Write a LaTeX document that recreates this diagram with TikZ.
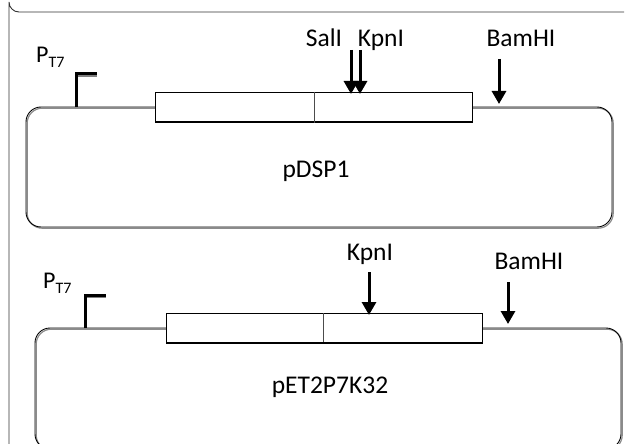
\documentclass[tikz,border=0pt]{standalone}
\usepackage{fontspec}
\setmainfont{Carlito}
\usetikzlibrary{arrows.meta}
\begin{document}
\begin{tikzpicture}[x=1pt,y=-1pt,
  lbl/.style={inner sep=0pt,anchor=base,font=\fontsize{25.5}{30}\selectfont},
  prom/.style={inner sep=0pt,anchor=base west,font=\fontsize{24}{28}\selectfont},
  frame/.style={draw=black!80,line width=0.9pt},
  backbone/.style={draw=black,line width=0.9pt,rounded corners=15pt},
  backshade/.style={draw=black!45,line width=1.2pt,rounded corners=15pt},
  gene/.style={draw=black,line width=1pt,fill=white},
  cut/.style={line width=3pt,-{Triangle[width=14pt,length=13pt]}},
  tss/.style={line width=3pt}]
\useasboundingbox (0,0) rectangle (627,444);
\clip (0,0) rectangle (627,444);

% outer frame
\draw[frame] (624,12) -- (19,12) arc[start angle=90,end angle=180,radius=10] -- (9,460);

% ---------- pDSP1 ----------
\draw[backshade] (27.2,108.2) rectangle (613.2,228.2);
\draw[backbone] (26,107) rectangle (612,227);
\node[gene,minimum width=317pt,minimum height=29pt,anchor=north west] (g1) at (155,92) {};
\draw[line width=2pt] (g1.south west) -- (g1.south east);
\draw[black!70,line width=0.8pt] (314,92) -- (314,123);
\coordinate (t1) at (76,107);
\coordinate (t1e) at (97,74);
\draw[black!50,line width=2pt] (78,76) -- (97,76);
\draw[tss] (t1) |- (t1e);
\node[prom] (p1) at (36,63) {P\raisebox{-5pt}{\fontsize{16}{18}\selectfont T7}};
\node[lbl] (sal) at (324,47) {SalI};
\node[lbl] (kpn1) at (381,47) {KpnI};
\node[lbl] (bam1) at (521,47) {BamHI};
\coordinate (sa) at (351,50);
\coordinate (sb) at (351,94);
\coordinate (ka) at (360,50);
\coordinate (kb) at (360,94);
\coordinate (ba) at (499,59);
\coordinate (bb) at (499,104);
\draw[cut] (sa) -- (sb);
\draw[cut] (ka) -- (kb);
\draw[cut] (ba) -- (bb);
\node[lbl] (n1) at (316,177) {pDSP1};

% ---------- pET2P7K32 ----------
\draw[backshade] (36.2,329.2) rectangle (622.2,450.2);
\draw[backbone] (35,328) rectangle (621,449);
\node[gene,minimum width=316pt,minimum height=29pt,anchor=north west] (g2) at (166,313) {};
\draw[line width=2pt] (g2.south west) -- (g2.south east);
\draw[black!70,line width=0.8pt] (323,313) -- (323,342);
\coordinate (t2) at (85,328);
\coordinate (t2e) at (106,295);
\draw[black!50,line width=2pt] (87,297) -- (106,297);
\draw[tss] (t2) |- (t2e);
\node[prom] (p2) at (43,288) {P\raisebox{-5pt}{\fontsize{16}{18}\selectfont T7}};
\node[lbl] (kpn2) at (370,260) {KpnI};
\node[lbl] (bam2) at (529,269) {BamHI};
\coordinate (k2a) at (369,272);
\coordinate (k2b) at (369,315);
\coordinate (b2a) at (508,282);
\coordinate (b2b) at (508,324);
\draw[cut] (k2a) -- (k2b);
\draw[cut] (b2a) -- (b2b);
\node[lbl] (n2) at (330,393) {pET2P7K32};
\end{tikzpicture}
\end{document}
